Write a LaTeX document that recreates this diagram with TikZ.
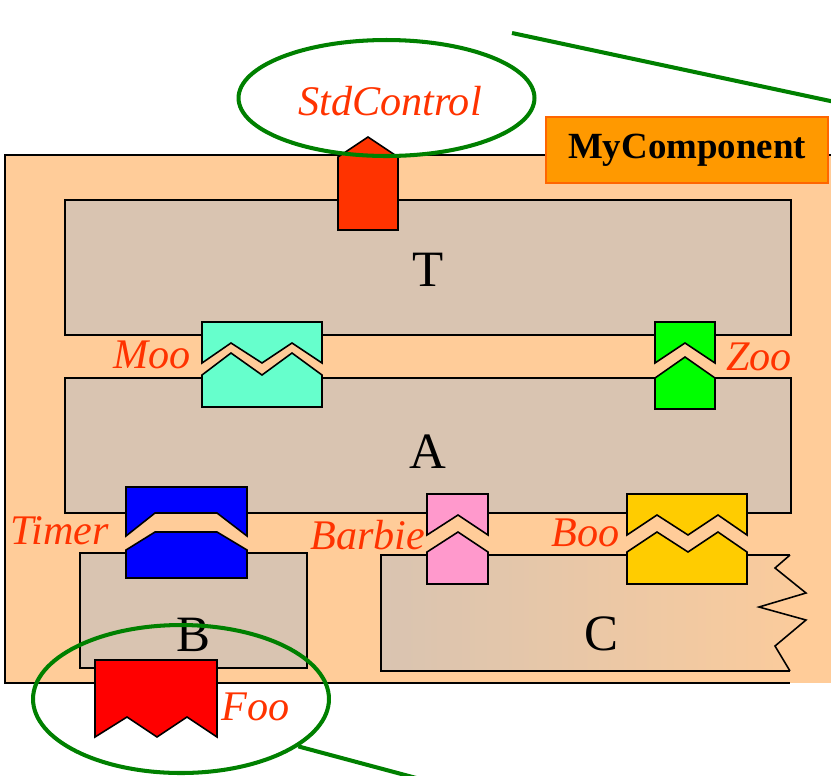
\documentclass[tikz,border=0pt]{standalone}
\usepackage{fontspec}
\setmainfont{Liberation Serif}
\usepackage{tikz}
\usetikzlibrary{shapes.geometric,positioning,calc}
\definecolor{peach}{RGB}{255,204,153}
\definecolor{tan}{RGB}{217,196,177}
\definecolor{lblred}{RGB}{255,51,0}
\definecolor{ringgreen}{RGB}{0,128,0}
\definecolor{moocol}{RGB}{102,255,204}
\definecolor{boocol}{RGB}{255,204,0}
\definecolor{barbiecol}{RGB}{255,153,204}
\definecolor{compfill}{RGB}{255,153,0}
\definecolor{compline}{RGB}{255,102,0}

\begin{document}
\begin{tikzpicture}[
			x=0.02cm, y=-0.02cm,
			blk/.style={draw, fill=tan, line width=0.7pt, inner sep=0pt},
			port/.style={draw, line width=0.9pt, line join=miter},
			big/.style={font=\fontsize{29}{32}\selectfont, inner sep=0pt},
			lbl/.style={text=lblred, font=\fontsize{24}{28}\selectfont\itshape, inner sep=0pt},
			ring/.style={draw=ringgreen, line width=2.3pt, ellipse, inner sep=0pt}
			]
			\useasboundingbox (0,0) rectangle (831,775);
			% outer component
			\fill[peach] (5,155) rectangle (831,683);
			\draw[line width=0.7pt] (831,155) -- (5,155) -- (5,683) -- (790,683);
			
			\node[blk, minimum width=14.52cm, minimum height=2.7cm] (Tbox) at (428,267.5) {};
			\node[blk, minimum width=14.52cm, minimum height=2.7cm] (Abox) at (428,445.5) {};
			\node[blk, minimum width=4.54cm, minimum height=2.3cm] (Bbox) at (193.5,610.5) {};
			\shade[left color=tan, right color=peach!90!tan] (381,555) -- (790,555) -- (775,568) -- (806,593) -- (759,607) -- (806,620) -- (775,646) -- (790,671) -- (381,671) -- cycle;
			\draw[line width=0.7pt] (790,555) -- (381,555) -- (381,671) -- (790,671);
			\draw[line width=0.9pt] (790,555) -- (775,568) -- (806,593) -- (759,607) -- (806,620) -- (775,646) -- (790,671);
			
			\node[big] (T) at (428,270) {T};
			\node[big] (A) at (428,452) {A};
			\node[big] (B) at (193,635) {B};
			\node[big] (C) at (601,634) {C};
			
			\node[draw=compline, fill=compfill, line width=1pt, minimum width=5.64cm, minimum height=1.32cm, font=\fontsize{21}{24}\selectfont\bfseries] (comp) at (687,150) {MyComponent};
			
			% interfaces
			\filldraw[port, fill=lblred] (338,230) -- (338,157) -- (368,137) -- (398,157) -- (398,230) -- cycle;
			\filldraw[port, fill=moocol] (202,322) -- (322,322) -- (322,363) -- (292,343) -- (262,363) -- (231,343) -- (202,363) -- cycle;
			\filldraw[port, fill=moocol] (202,375) -- (231,353) -- (262,375) -- (292,353) -- (322,375) -- (322,407) -- (202,407) -- cycle;
			\filldraw[port, fill=green] (655,322) -- (715,322) -- (715,363) -- (685,343) -- (655,363) -- cycle;
			\filldraw[port, fill=green] (655,378) -- (685,357) -- (715,378) -- (715,409) -- (655,409) -- cycle;
			\filldraw[port, fill=blue] (126,487) -- (247,487) -- (247,536) -- (217,513) -- (155,513) -- (126,536) -- cycle;
			\filldraw[port, fill=blue] (126,550) -- (155,532) -- (217,532) -- (247,550) -- (247,578) -- (126,578) -- cycle;
			\filldraw[port, fill=barbiecol] (427,494) -- (488,494) -- (488,535) -- (458,515) -- (427,535) -- cycle;
			\filldraw[port, fill=barbiecol] (427,552) -- (458,532) -- (488,552) -- (488,584) -- (427,584) -- cycle;
			\filldraw[port, fill=boocol] (627,494) -- (747,494) -- (747,535) -- (718,515) -- (688,535) -- (657,515) -- (627,535) -- cycle;
			\filldraw[port, fill=boocol] (627,552) -- (657,532) -- (688,552) -- (718,532) -- (747,552) -- (747,584) -- (627,584) -- cycle;
			\filldraw[port, fill=red] (95,660) -- (217,660) -- (217,737) -- (187,717) -- (157,737) -- (127,717) -- (95,737) -- cycle;
			
			\node[lbl] (std) at (390,101) {StdControl};
			\node[lbl, anchor=east] (moo) at (191,355) {Moo};
			\node[lbl, anchor=west] (zoo) at (726,357) {Zoo};
			\node[lbl, anchor=west] (timer) at (10,531) {Timer};
			\node[lbl, anchor=west] (barbie) at (310,535) {Barbie};
			\node[lbl, anchor=west] (boo) at (551,533) {Boo};
			\node[lbl, anchor=west] (foo) at (221,707) {Foo};
			
			% callouts
			\node[ring, minimum width=5.92cm, minimum height=2.32cm] (stdring) at (386.5,98) {};
			\node[ring, minimum width=5.92cm, minimum height=2.96cm] (fooring) at (181,699) {};
			\coordinate (stdend) at (835,102);
			\coordinate (fooend) at (420,779);
			\draw[ringgreen, line width=2.3pt] (512,33) -- (stdend);
			\draw[ringgreen, line width=2.3pt] (fooring.-22) -- (fooend);
		\end{tikzpicture}
\end{document}
